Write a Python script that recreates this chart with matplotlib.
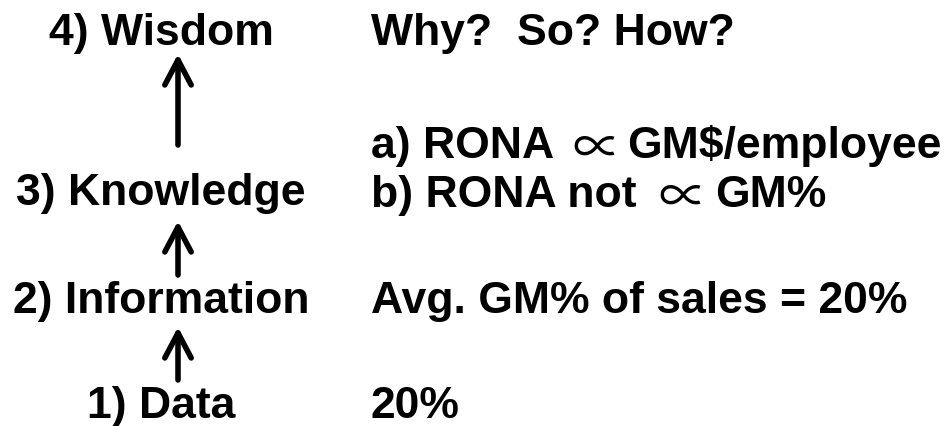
import matplotlib
matplotlib.use("Agg")
import matplotlib.pyplot as plt

# DIKW ladder: left column levels, right column examples
levels = ["1) Data", "2) Information", "3) Knowledge", "4) Wisdom"]
examples = [
    ["20%"],
    ["Avg. GM% of sales = 20%"],
    ["a) RONA \u221d GM$/employee", "b) RONA not \u221d GM%"],
    ["Why?  So? How?"],
]

plt.rcParams["font.family"] = ["Liberation Sans", "DejaVu Sans"]

fig = plt.figure(figsize=(9.53, 4.27), dpi=100)
ax = fig.add_axes([0, 0, 1, 1])
ax.set_xlim(0, 953)
ax.set_ylim(427, 0)
ax.axis("off")

# layout in pixel coords (baselines)
level_y = [418, 313, 205, 45]
example_y = [[418], [313], [158, 207], [45]]
# where the proportional sign and the text after it go (for lines with one)
sym_x = {"a": (597, 627), "b": (683, 715)}
arrow_spans = [(381, 328), (276, 222), (146, 55)]
fs = 32

for lab, y in zip(levels, level_y):
    ax.text(161, y, lab, fontsize=fs, fontweight="bold", ha="center", va="baseline")

for lines, ys in zip(examples, example_y):
    for t, y in zip(lines, ys):
        if "\u221d" in t:
            left, right = [s.strip() for s in t.split("\u221d")]
            sx, rx = sym_x[t[0]]
            ax.text(371, y, left, fontsize=fs, fontweight="bold", ha="left", va="baseline")
            ax.text(sx, y + 6, "\u221d", fontsize=35, family=["Noto Sans CJK SC"],
                    ha="center", va="baseline")
            ax.text(rx, y, right, fontsize=fs, fontweight="bold", ha="left", va="baseline")
        else:
            ax.text(371, y, t, fontsize=fs, fontweight="bold", ha="left", va="baseline")

for y0, y1 in arrow_spans:
    ax.annotate("", xy=(178, y1), xytext=(178, y0),
                arrowprops=dict(arrowstyle="->,head_length=1.8,head_width=0.95",
                                lw=4, color="black", shrinkA=0, shrinkB=0))

fig.savefig("out.png", dpi=100)
